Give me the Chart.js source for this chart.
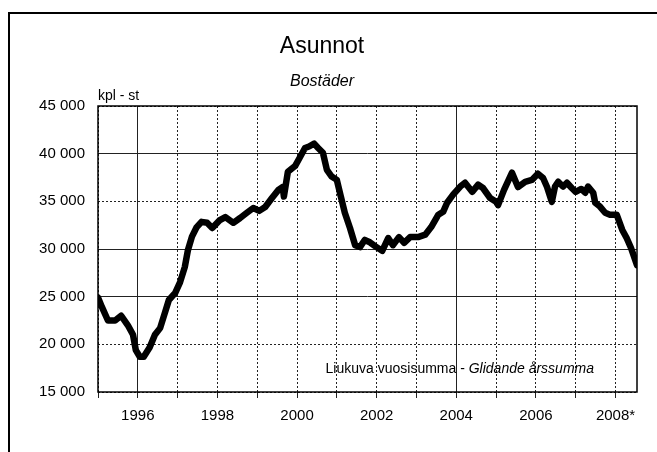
<!DOCTYPE html>
<html>
<head>
<meta charset="utf-8">
<script src="https://cdn.jsdelivr.net/npm/chart.js@4/dist/chart.umd.min.js"></script>
<style>
    html, body { margin: 0; padding: 0; background: #fff; }
    canvas { display: block; }
</style>
</head>
<body>
<canvas id="housing-chart" width="657" height="452"></canvas>
<script>
// Rolling annual sum of dwellings
const years = [
    1995.00, 1995.10, 1995.25, 1995.43, 1995.58, 1995.75, 1995.88, 1995.95,
    1996.05, 1996.15, 1996.30, 1996.43, 1996.56, 1996.68, 1996.78, 1996.94,
    1997.06, 1997.18, 1997.26, 1997.36, 1997.48, 1997.60, 1997.74, 1997.87,
    1998.05, 1998.20, 1998.40, 1998.57, 1998.74, 1998.90,
    1999.05, 1999.20, 1999.37, 1999.53, 1999.64, 1999.67, 1999.77, 1999.95,
    2000.07, 2000.20, 2000.30, 2000.43, 2000.53, 2000.65, 2000.75, 2000.87,
    2001.00, 2001.10, 2001.20, 2001.33, 2001.46, 2001.58, 2001.70, 2001.83, 2001.96,
    2002.14, 2002.29, 2002.41, 2002.56, 2002.69, 2002.84,
    2003.04, 2003.22, 2003.37, 2003.55, 2003.67, 2003.77, 2003.92,
    2004.10, 2004.22, 2004.40, 2004.55, 2004.67, 2004.85,
    2005.00, 2005.05, 2005.20, 2005.40, 2005.55, 2005.73, 2005.90,
    2006.05, 2006.18, 2006.28, 2006.40, 2006.48, 2006.56, 2006.68, 2006.78, 2006.90,
    2007.00, 2007.14, 2007.24, 2007.31, 2007.44, 2007.49, 2007.61, 2007.74, 2007.86,
    2008.03, 2008.17, 2008.28, 2008.39, 2008.54
];
const dwellings = [
    24900, 23900, 22500, 22500, 23000, 22000, 21000, 19400,
    18700, 18700, 19700, 21000, 21700, 23300, 24650, 25400,
    26500, 28100, 29900, 31300, 32300, 32850, 32750, 32200,
    33000, 33350, 32750, 33250, 33800, 34300,
    34000, 34400, 35350, 36200, 36500, 35500, 38100, 38700,
    39600, 40600, 40750, 41050, 40600, 40100, 38300, 37600,
    37250, 35500, 33800, 32200, 30400, 30200, 30950, 30700, 30300,
    29800, 31150, 30400, 31250, 30650, 31250,
    31250, 31500, 32300, 33600, 33900, 34850, 35700,
    36550, 36950, 36000, 36750, 36400, 35350,
    34950, 34600, 36200, 38000, 36500, 37050, 37250,
    37900, 37450, 36500, 34950, 36550, 37050, 36550, 36950, 36400,
    36000, 36300, 35900, 36550, 35900, 34850, 34450, 33800, 33600,
    33600, 32000, 31150, 30100, 28300
];

// Axis ticks
const yearTicks = [1995, 1996, 1997, 1998, 1999, 2000, 2001, 2002, 2003, 2004, 2005, 2006, 2007, 2008];
const labelYears = [1996, 1998, 2000, 2002, 2004, 2006, 2008];
const labelTexts = ['1996', '1998', '2000', '2002', '2004', '2006', '2008*'];
const valueTicks = [15000, 20000, 25000, 30000, 35000, 40000, 45000];

// Grid lines that come out solid in the printed original
const solidYears = [1996, 2004];
const solidValues = [25000, 30000, 40000];

const FONT = "'Liberation Sans', Arial, sans-serif";

function formatThousands(value) {
    return String(value).replace(/\B(?=(\d{3})+(?!\d))/g, ' ');
}

// Frame, titles and note drawn around the plot
const decorations = {
    id: 'decorations',
    afterDraw(chart) {
        const ctx = chart.ctx;
        const area = chart.chartArea;
        ctx.save();

        // outer box (top and left edges visible)
        ctx.strokeStyle = '#000';
        ctx.lineWidth = 2;
        ctx.beginPath();
        ctx.moveTo(657, 13);
        ctx.lineTo(9, 13);
        ctx.lineTo(9, 452);
        ctx.stroke();

        // plot frame
        ctx.lineWidth = 1.5;
        ctx.strokeRect(area.left, area.top, area.right - area.left, area.bottom - area.top);

        ctx.fillStyle = '#000';
        ctx.textAlign = 'center';
        ctx.textBaseline = 'alphabetic';
        ctx.font = '23px ' + FONT;
        ctx.fillText('Asunnot', 322, 53);
        ctx.font = 'italic 16px ' + FONT;
        ctx.fillText('Bostäder', 322, 86);

        ctx.textAlign = 'left';
        ctx.font = '14px ' + FONT;
        ctx.fillText('kpl - st', 98, 100);

        // note inside the plot
        const plain = 'Liukuva vuosisumma - ';
        const italic = 'Glidande årssumma';
        ctx.font = 'italic 14px ' + FONT;
        const wItalic = ctx.measureText(italic).width;
        ctx.font = '14px ' + FONT;
        const wPlain = ctx.measureText(plain).width;
        const right = 594;
        ctx.fillText(plain, right - wItalic - wPlain, 373);
        ctx.font = 'italic 14px ' + FONT;
        ctx.fillText(italic, right - wItalic, 373);

        ctx.restore();
    }
};

const ctx = document.getElementById('housing-chart').getContext('2d');

new Chart(ctx, {
    type: 'line',
    data: {
        datasets: [{
            label: 'Asunnot',
            data: years.map((x, i) => ({ x: x, y: dwellings[i] })),
            borderColor: '#000',
            borderWidth: 6.5,
            borderJoinStyle: 'round',
            borderCapStyle: 'round',
            pointRadius: 0,
            tension: 0,
            fill: false
        }]
    },
    options: {
        responsive: false,
        animation: false,
        layout: {
            padding: { left: 0, top: 106, right: 20, bottom: 0 }
        },
        plugins: {
            legend: { display: false },
            tooltip: { enabled: false },
            title: { display: false }
        },
        scales: {
            x: {
                type: 'linear',
                min: 1995,
                max: 2008.54,
                afterBuildTicks: scale => {
                    scale.ticks = yearTicks.map(v => ({ value: v }));
                },
                afterFit: scale => {
                    scale.height = 60;
                },
                grid: {
                    color: '#222',
                    lineWidth: 1,
                    drawTicks: true,
                    tickLength: 6
                },
                border: {
                    display: false,
                    dash: c => (c.tick && solidYears.includes(c.tick.value)) ? [] : [2, 2]
                },
                ticks: {
                    autoSkip: false,
                    maxRotation: 0,
                    padding: 9,
                    color: '#000',
                    font: { family: FONT, size: 15 },
                    callback: value => {
                        const i = labelYears.indexOf(value);
                        return i >= 0 ? labelTexts[i] : '';
                    }
                }
            },
            y: {
                min: 15000,
                max: 45000,
                afterBuildTicks: scale => {
                    scale.ticks = valueTicks.map(v => ({ value: v }));
                },
                afterFit: scale => {
                    scale.width = 98;
                },
                grid: {
                    color: '#222',
                    lineWidth: 1,
                    drawTicks: false
                },
                border: {
                    display: false,
                    dash: c => (c.tick && solidValues.includes(c.tick.value)) ? [] : [2, 2]
                },
                ticks: {
                    padding: 13,
                    color: '#000',
                    font: { family: FONT, size: 15 },
                    callback: value => formatThousands(value)
                }
            }
        }
    },
    plugins: [decorations]
});
</script>
</body>
</html>
